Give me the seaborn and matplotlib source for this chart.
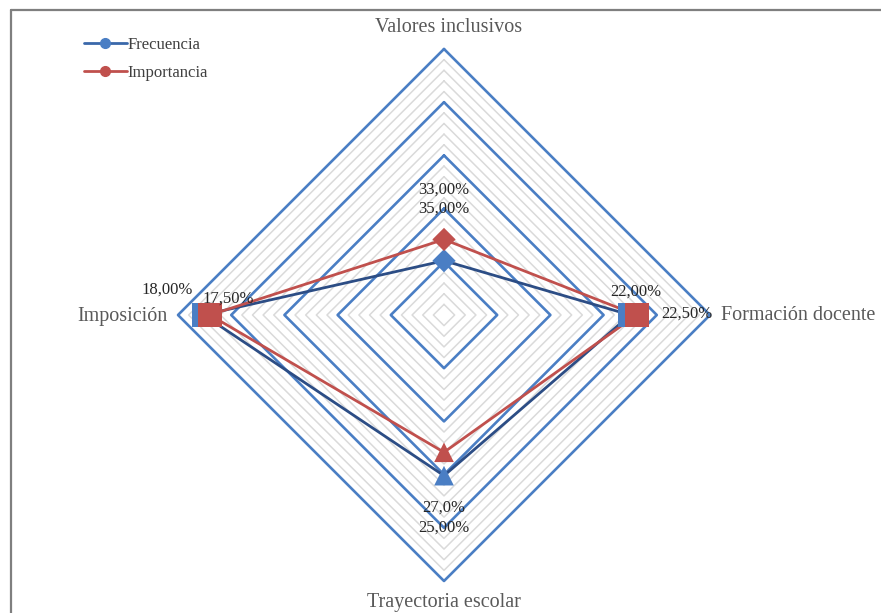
import numpy as np
import pandas as pd
import matplotlib
matplotlib.use("Agg")
import matplotlib.pyplot as plt
import seaborn as sns
from matplotlib.lines import Line2D

# categories clockwise from the top
categories = ["Valores inclusivos", "Formación docente", "Trayectoria escolar", "Imposición"]
frecuencia = [5.1, 17.5, 15.1, 22.6]
importancia = [7.1, 18.1, 12.9, 22.0]
frec_labels = ["35,00%", "22,00%", "25,00%", "18,00%"]
imp_labels = ["33,00%", "22,50%", "27,0%", "17,50%"]
point_markers = ["D", "s", "^", "s"]
r_max = 25

sns.set_theme(style="white")
plt.rcParams["font.family"] = ["Liberation Serif", "DejaVu Serif"]

angles = np.deg2rad([90, 0, -90, 180])

def to_xy(vals):
    vals = np.asarray(vals, dtype=float)
    return vals * np.cos(angles), vals * np.sin(angles)

rows = []
for name, vals in [("Frecuencia", frecuencia), ("Importancia", importancia)]:
    x, y = to_xy(vals)
    for i in list(range(4)) + [0]:
        rows.append({"serie": name, "x": x[i], "y": y[i]})
df = pd.DataFrame(rows)

fig = plt.figure(figsize=(8.81, 6.13), dpi=100)
ax = fig.add_axes([0, 0, 1, 1])
px = 266 / r_max  # pixels per unit
ax.set_xlim(-444 / px, 437 / px)
ax.set_ylim(-(613 - 315) / px, 315 / px)
ax.axis("off")

# grid rings
for r in range(1, r_max + 1):
    gx, gy = to_xy([r] * 4)
    gx = np.append(gx, gx[0]); gy = np.append(gy, gy[0])
    if r % 5 == 0:
        ax.plot(gx, gy, color="#4A7EC4", lw=1.9, zorder=2)
    else:
        ax.plot(gx, gy, color="#DADADA", lw=1.1, zorder=1)

line_cols = {"Frecuencia": "#2C4D85", "Importancia": "#C0504D"}
mark_cols = {"Frecuencia": "#4A7EC4", "Importancia": "#C0504D"}
sns.lineplot(data=df, x="x", y="y", hue="serie", palette=line_cols, sort=False,
             estimator=None, units="serie", lw=2, legend=False, ax=ax, zorder=3)

marker_sizes = {"D": 140, "s": 300, "^": 200}
for name, vals in [("Frecuencia", frecuencia), ("Importancia", importancia)]:
    x, y = to_xy(vals)
    for i in range(4):
        ax.scatter(x[i], y[i], marker=point_markers[i], s=marker_sizes[point_markers[i]],
                   color=mark_cols[name], edgecolor="none", zorder=4)

# data labels (offsets in pixels)
frec_off = [(0, 52), (6, 23), (0, -52), (-36, 25)]
imp_off = [(0, 50), (50, 1), (0, -55), (18, 16)]
for vals, labs, offs in [(frecuencia, frec_labels, frec_off), (importancia, imp_labels, imp_off)]:
    x, y = to_xy(vals)
    for i in range(4):
        ax.annotate(labs[i], (x[i], y[i]), xytext=offs[i], textcoords="offset pixels",
                    ha="center", va="center", fontsize=12, color="#262626", zorder=5)

# category labels
cx, cy = to_xy([r_max] * 4)
ax.annotate(categories[0], (cx[0], cy[0]), xytext=(5, 22), textcoords="offset pixels",
            ha="center", va="center", fontsize=14.5, color="#595959")
ax.annotate(categories[1], (cx[1], cy[1]), xytext=(11, 0), textcoords="offset pixels",
            ha="left", va="center", fontsize=14.5, color="#595959")
ax.annotate(categories[2], (cx[2], cy[2]), xytext=(0, -22), textcoords="offset pixels",
            ha="center", va="center", fontsize=14.5, color="#595959")
ax.annotate(categories[3], (cx[3], cy[3]), xytext=(-10, -2), textcoords="offset pixels",
            ha="right", va="center", fontsize=14.5, color="#595959")

# legend
handles = [Line2D([], [], color="#3A68AA", lw=2, marker="o", ms=7, mfc="#4A7EC4", mec="#4A7EC4"),
           Line2D([], [], color="#C0504D", lw=2, marker="o", ms=7, mfc="#C0504D", mec="#C0504D")]
fig.legend(handles, ["Frecuencia", "Importancia"], loc="upper left",
           bbox_to_anchor=(69 / 881, 1 - 22 / 613), frameon=False, fontsize=12,
           handlelength=2.55, handletextpad=0.05, labelspacing=0.7, labelcolor="#404040")

# chart border (top and left edges visible)
fig.add_artist(Line2D([11 / 881, 1], [1 - 10 / 613] * 2, color="#7F7F7F", lw=1.6))
fig.add_artist(Line2D([11 / 881] * 2, [0, 1 - 10 / 613], color="#7F7F7F", lw=1.6))

fig.savefig("out.png", dpi=100)
